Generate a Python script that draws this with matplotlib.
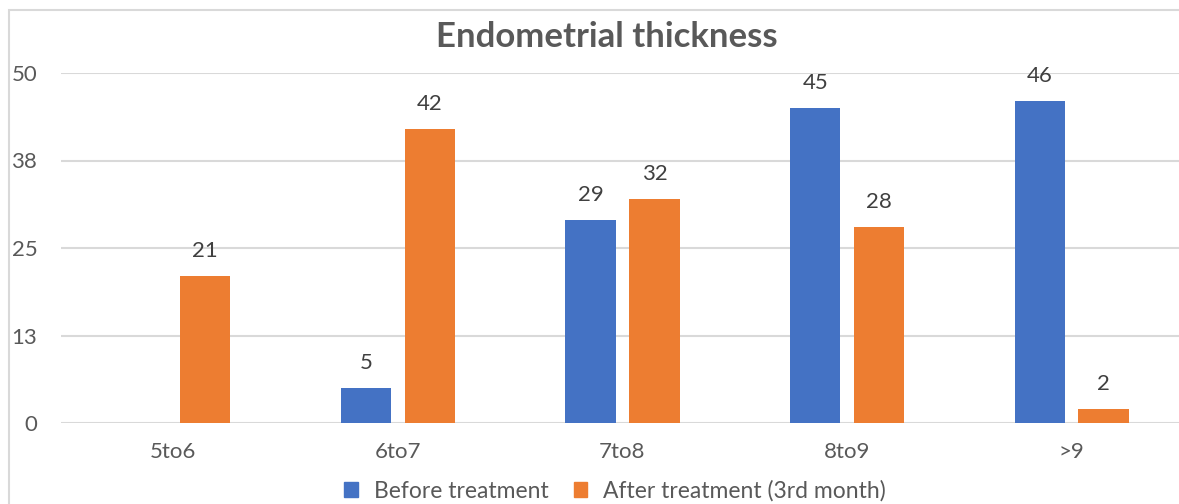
import numpy as np
import matplotlib
matplotlib.use("Agg")
import matplotlib.pyplot as plt
from matplotlib.patches import Rectangle

plt.rcParams["font.family"] = ["Lato", "DejaVu Sans"]

categories = ["5to6", "6to7", "7to8", "8to9", ">9"]
before = [0, 5, 29, 45, 46]
after = [21, 42, 32, 28, 2]
series_names = ["Before treatment", "After treatment (3rd month)"]
yticks = [0, 12.5, 25, 37.5, 50]
ytick_labels = ["0", "13", "25", "38", "50"]

blue = "#4472C4"
orange = "#ED7D31"
text_col = "#595959"
W, H = 1179, 504

fig = plt.figure(figsize=(W / 100, H / 100), dpi=100)
ax = fig.add_axes([61 / W, 1 - 423 / H, (1184 - 61) / W, 350 / H])

x = np.arange(len(categories))
bw = 0.225
off = 0.142
b1 = ax.bar(x - off, before, bw, color=blue, zorder=3)
b2 = ax.bar(x + off, after, bw, color=orange, zorder=3)

for bars, vals in ((b1, before), (b2, after)):
    for rect, v in zip(bars, vals):
        if v == 0:
            continue
        ax.annotate(str(v), (rect.get_x() + rect.get_width() / 2, v),
                    xytext=(0, 11), textcoords="offset points",
                    ha="center", va="bottom", fontsize=16, color="#404040")

ax.set_xlim(-0.5, len(categories) - 0.5)
ax.set_ylim(0, 50)
ax.set_yticks(yticks)
ax.set_yticklabels(ytick_labels)
ax.set_xticks(x)
ax.set_xticklabels(categories)
ax.tick_params(length=0, labelsize=16, colors=text_col)
ax.tick_params(axis="y", pad=17)
ax.tick_params(axis="x", pad=14)
ax.grid(axis="y", color="#D9D9D9", linewidth=1.5, zorder=0)
for s in ax.spines.values():
    s.set_visible(False)

fig.text(607 / W, 1 - 37 / H, "Endometrial thickness", ha="center", va="center",
         fontsize=25, fontweight="bold", color=text_col)

handles = [Rectangle((0, 0), 1, 1, color=blue), Rectangle((0, 0), 1, 1, color=orange)]
fig.legend(handles, series_names, loc="center", bbox_to_anchor=(615 / W, 1 - 491 / H),
           ncol=2, frameon=False, fontsize=16.5, handlelength=0.6, handleheight=0.6,
           handletextpad=0.7, columnspacing=1.1, labelcolor=text_col)

fig.patches.append(Rectangle((9 / W, -0.1), 1.2, 1 - 10 / H + 0.1, transform=fig.transFigure,
                             fill=False, edgecolor="#D9D9D9", linewidth=1.5))

fig.savefig("out.png", dpi=100)
